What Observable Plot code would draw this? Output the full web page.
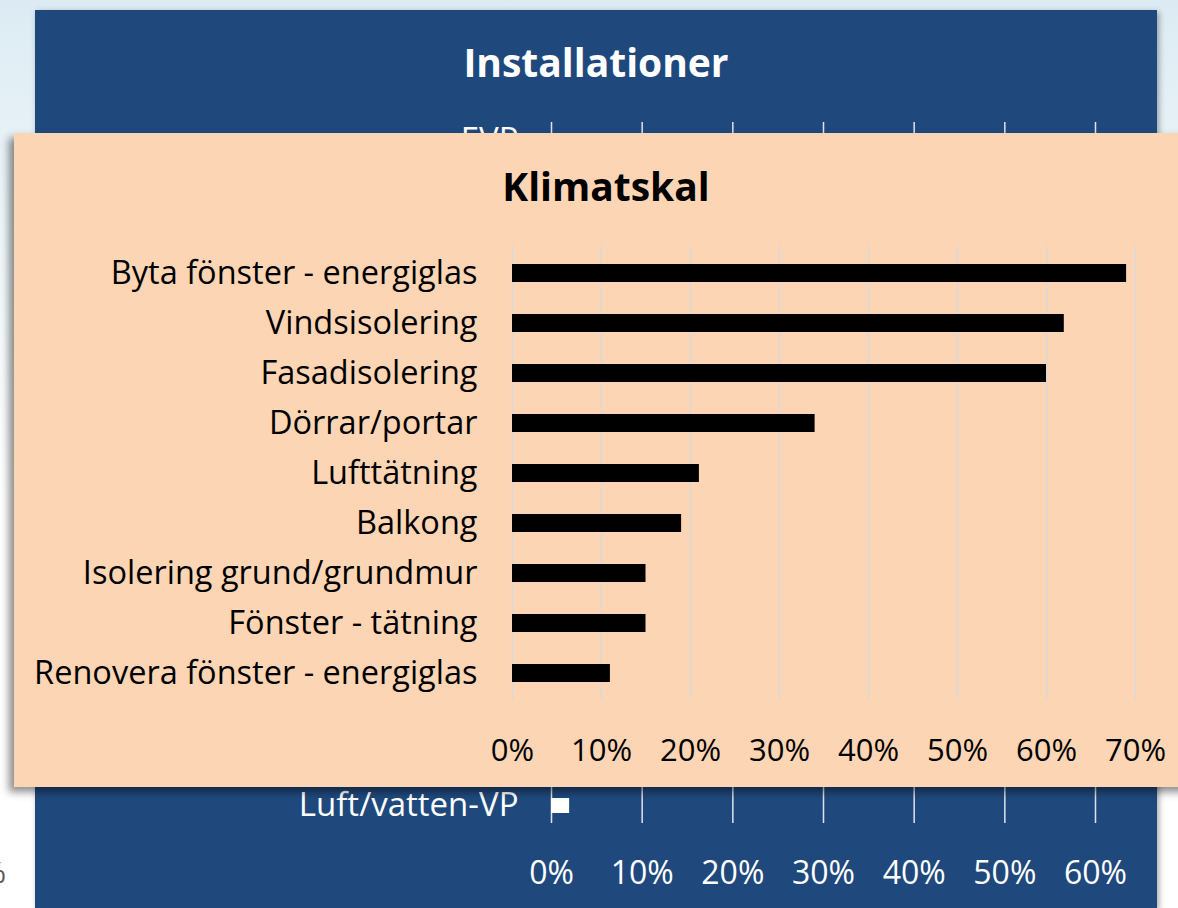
<!DOCTYPE html>
<html>
<head>
<meta charset="utf-8">
<script src="https://cdn.jsdelivr.net/npm/d3@7"></script>
<script src="https://cdn.jsdelivr.net/npm/@observablehq/plot@0.6"></script>
<style>
  html, body { margin: 0; padding: 0; }
  body {
    width: 1178px; height: 908px; overflow: hidden; position: relative;
    background: linear-gradient(180deg, #dcebf3 0%, #eef6f9 25%, #ffffff 55%, #ffffff 100%);
    font-family: "Open Sans", sans-serif;
  }
  #blue {
    position: absolute; left: 35px; top: 10px; width: 1122px; height: 898px;
    background: #1f497d; box-shadow: 2px 2px 6px rgba(0,0,0,0.35);
  }
  #orange {
    position: absolute; left: 14px; top: 133px; width: 1184px; height: 654px;
    background: #fcd5b4; box-shadow: -5px 5px 8px rgba(0,0,0,0.45);
  }
  .title {
    position: absolute; left: 0; width: 100%; text-align: center;
    font-weight: bold; font-size: 39px; line-height: 46px;
  }
  #blue .title { color: #ffffff; top: 29px; }
  #orange .title { color: #000000; top: 30px; }
  .chart { position: absolute; left: 0; top: 0; }
  #stray {
    position: absolute; left: -44px; width: 50px; top: 854px; text-align: right;
    color: #595959; font-size: 30px; line-height: 36px;
  }
</style>
</head>
<body>
<div id="stray">0%</div>
<div id="blue"><div class="title">Installationer</div><div class="chart" id="blueChart"></div></div>
<div id="orange"><div class="title">Klimatskal</div><div class="chart" id="orangeChart"></div></div>
<script>
// Klimatskal (front chart)
const klimatCategories = [
  "Byta fönster - energiglas",
  "Vindsisolering",
  "Fasadisolering",
  "Dörrar/portar",
  "Lufttätning",
  "Balkong",
  "Isolering grund/grundmur",
  "Fönster - tätning",
  "Renovera fönster - energiglas"
];
const klimatValues = [0.69, 0.62, 0.60, 0.34, 0.21, 0.19, 0.15, 0.15, 0.11];
const klimatTicks = [0, 0.1, 0.2, 0.3, 0.4, 0.5, 0.6, 0.7];

// Installationer (background chart, mostly hidden)
const installCategories = ["EVP", "Luft/vatten-VP"];
const installBarCategories = ["Luft/vatten-VP"];
const installBarValues = [0.02];
const installTicks = [0, 0.1, 0.2, 0.3, 0.4, 0.5, 0.6];

const pct = d3.format(".0%");
const FONT = "'Open Sans', sans-serif";

const klimat = klimatCategories.map((c, i) => ({cat: c, value: klimatValues[i]}));
const install = installBarCategories.map((c, i) => ({cat: c, value: installBarValues[i]}));

const orange = Plot.plot({
  width: 1184, height: 654,
  marginLeft: 498, marginRight: 63, marginTop: 112, marginBottom: 87,
  style: {background: "transparent", color: "#000", fontFamily: FONT, fontSize: "31px", overflow: "visible"},
  x: {domain: [0, 0.7], label: null},
  y: {domain: klimatCategories, paddingInner: 0.645, paddingOuter: 0.3225, label: null},
  marks: [
    Plot.gridX(klimatTicks, {stroke: "#d9d9d9", strokeOpacity: 1, strokeWidth: 1.5}),
    Plot.barX(klimat, {y: "cat", x1: 0, x2: "value", fill: "#000"}),
    Plot.axisX(klimatTicks, {tickSize: 0, tickPadding: 38, tickFormat: pct, fontSize: 31, fill: "#000", label: null}),
    Plot.axisY({tickSize: 0, tickPadding: 35, fontSize: 32.5, fill: "#000", label: null})
  ]
});
document.getElementById("orangeChart").appendChild(orange);

const blue = Plot.plot({
  width: 1122, height: 898,
  marginLeft: 516, marginRight: 62, marginTop: 112, marginBottom: 85,
  style: {background: "transparent", color: "#fff", fontFamily: FONT, fontSize: "32px", overflow: "visible"},
  x: {domain: [0, 0.6], label: null},
  y: {type: "point", domain: installCategories, padding: 0.027, label: null},
  marks: [
    Plot.gridX(installTicks, {stroke: "#ffffff", strokeOpacity: 0.85, strokeWidth: 1.5}),
    Plot.ruleY(install, {y: "cat", x1: 0, x2: "value", stroke: "#ffffff", strokeWidth: 15}),
    Plot.axisX(installTicks, {tickSize: 0, tickPadding: 38, tickFormat: pct, fontSize: 32, fill: "#fff", label: null}),
    Plot.axisY({tickSize: 0, tickPadding: 33, fontSize: 33, fill: "#fff", label: null})
  ]
});
document.getElementById("blueChart").appendChild(blue);
</script>
</body>
</html>
